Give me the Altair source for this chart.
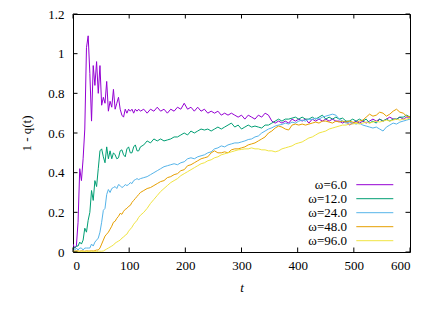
import altair as alt
import pandas as pd

# sampling times (dense at the start, coarser later)
T_EARLY = list(range(0, 121, 3))
T_LATE = list(range(126, 601, 6))
T = T_EARLY + T_LATE

labels = ["ω=6.0", "ω=12.0", "ω=24.0", "ω=48.0", "ω=96.0"]
colors = ["#9400d3", "#009e73", "#56b4e9", "#e69f00", "#f0e442"]
x_ticks = [0, 100, 200, 300, 400, 500, 600]
y_ticks = [0, 0.2, 0.4, 0.6, 0.8, 1.0, 1.2]

w6 = [0.04, 0.02, 0.03, 0.15, 0.42, 0.36, 0.47, 0.62, 1.03, 1.09,
      0.90, 0.66, 0.94, 0.84, 0.96, 0.80, 0.94, 0.74, 0.78, 0.75,
      0.86, 0.71, 0.76, 0.73, 0.82, 0.72, 0.75, 0.78, 0.72, 0.69,
      0.68, 0.72, 0.70, 0.72, 0.71, 0.72, 0.70, 0.72, 0.71, 0.72,
      0.71,
      0.72, 0.70, 0.72, 0.71, 0.73, 0.71, 0.72, 0.70, 0.72, 0.71,
      0.73, 0.72, 0.75, 0.72, 0.73, 0.71, 0.73, 0.71, 0.72, 0.70,
      0.71, 0.70, 0.71, 0.69, 0.70, 0.69, 0.70, 0.69, 0.68, 0.69,
      0.67, 0.69, 0.68, 0.67, 0.69, 0.68, 0.70, 0.69, 0.66, 0.65,
      0.66, 0.65, 0.66, 0.65, 0.67, 0.66, 0.67, 0.66, 0.67, 0.65,
      0.67, 0.66, 0.67, 0.66, 0.67, 0.66, 0.67, 0.66, 0.66, 0.65,
      0.66, 0.64, 0.65, 0.66, 0.65, 0.66, 0.65, 0.66, 0.67, 0.66,
      0.67, 0.66, 0.67, 0.68, 0.67, 0.67, 0.68, 0.67, 0.68, 0.68]

w12 = [0.02, 0.02, 0.03, 0.03, 0.05, 0.04, 0.06, 0.12, 0.10, 0.16,
       0.20, 0.31, 0.26, 0.36, 0.33, 0.42, 0.51, 0.52, 0.48, 0.45,
       0.53, 0.47, 0.51, 0.47, 0.50, 0.49, 0.47, 0.475, 0.51, 0.515,
       0.49, 0.48, 0.52, 0.53, 0.50, 0.50, 0.53, 0.54, 0.51, 0.51,
       0.53,
       0.54, 0.56, 0.55, 0.57, 0.56, 0.57, 0.56, 0.565, 0.57, 0.58,
       0.58, 0.59, 0.60, 0.59, 0.61, 0.60, 0.61, 0.62, 0.615, 0.62,
       0.61, 0.62, 0.63, 0.62, 0.63, 0.64, 0.65, 0.63, 0.64, 0.62,
       0.63, 0.64, 0.63, 0.635, 0.63, 0.625, 0.64, 0.64, 0.65, 0.66,
       0.67, 0.66, 0.67, 0.67, 0.675, 0.68, 0.67, 0.68, 0.67, 0.67,
       0.68, 0.67, 0.68, 0.69, 0.67, 0.68, 0.67, 0.68, 0.67, 0.675,
       0.66, 0.66, 0.67, 0.66, 0.67, 0.66, 0.67, 0.65, 0.66, 0.65,
       0.67, 0.66, 0.67, 0.66, 0.67, 0.67, 0.68, 0.68, 0.69, 0.68]

w24 = [0.01, 0.01, 0.02, 0.01, 0.02, 0.02, 0.01, 0.02, 0.02, 0.02,
       0.02, 0.04, 0.03, 0.05, 0.06, 0.07, 0.10, 0.15, 0.21, 0.22,
       0.29, 0.315, 0.30, 0.32, 0.325, 0.33, 0.32, 0.34, 0.335, 0.325,
       0.33, 0.34, 0.335, 0.34, 0.35, 0.345, 0.36, 0.365, 0.37, 0.365,
       0.37,
       0.375, 0.38, 0.39, 0.40, 0.41, 0.42, 0.43, 0.435, 0.44, 0.445,
       0.44, 0.45, 0.455, 0.47, 0.475, 0.47, 0.48, 0.485, 0.49, 0.50,
       0.505, 0.52, 0.525, 0.535, 0.53, 0.54, 0.545, 0.55, 0.55, 0.555,
       0.56, 0.567, 0.57, 0.58, 0.585, 0.60, 0.61, 0.62, 0.626, 0.635,
       0.64, 0.643, 0.65, 0.645, 0.655, 0.65, 0.66, 0.665, 0.66, 0.67,
       0.668, 0.675, 0.67, 0.68, 0.685, 0.69, 0.695, 0.69, 0.67, 0.66,
       0.65, 0.655, 0.65, 0.645, 0.65, 0.64, 0.635, 0.63, 0.625, 0.63,
       0.62, 0.61, 0.63, 0.64, 0.65, 0.645, 0.655, 0.66, 0.665, 0.67]

w48 = [0.005, 0.004, 0.006, 0.005, 0.004, 0.006, 0.005, 0.004, 0.006, 0.005,
       0.005, 0.006, 0.005, 0.007, 0.01, 0.01, 0.02, 0.04, 0.06, 0.08,
       0.09, 0.10, 0.115, 0.13, 0.15, 0.155, 0.17, 0.18, 0.195, 0.19,
       0.205, 0.215, 0.22, 0.23, 0.235, 0.25, 0.26, 0.27, 0.28, 0.29,
       0.30,
       0.31, 0.32, 0.325, 0.335, 0.345, 0.355, 0.36, 0.375, 0.38, 0.39,
       0.395, 0.41, 0.415, 0.435, 0.44, 0.45, 0.46, 0.47, 0.475, 0.48,
       0.50, 0.51, 0.50, 0.50, 0.505, 0.50, 0.515, 0.52, 0.52, 0.525,
       0.53, 0.54, 0.545, 0.55, 0.56, 0.57, 0.58, 0.60, 0.61, 0.625,
       0.635, 0.63, 0.62, 0.615, 0.64, 0.645, 0.64, 0.645, 0.64, 0.645,
       0.65, 0.655, 0.65, 0.66, 0.66, 0.655, 0.65, 0.66, 0.655, 0.66,
       0.655, 0.66, 0.655, 0.65, 0.66, 0.665, 0.68, 0.695, 0.685, 0.69,
       0.705, 0.70, 0.685, 0.695, 0.71, 0.72, 0.705, 0.70, 0.685, 0.68]

w96 = [0.003, 0.002, 0.003, 0.003, 0.002, 0.003, 0.003, 0.002, 0.003, 0.003,
       0.003, 0.004, 0.003, 0.004, 0.003, 0.004, 0.004, 0.004, 0.005, 0.01,
       0.015, 0.02, 0.025, 0.03, 0.035, 0.045, 0.05, 0.055, 0.06, 0.07,
       0.075, 0.085, 0.09, 0.105, 0.115, 0.125, 0.14, 0.15, 0.16, 0.175,
       0.185,
       0.20, 0.22, 0.245, 0.265, 0.285, 0.305, 0.32, 0.335, 0.35, 0.36,
       0.37, 0.385, 0.395, 0.405, 0.415, 0.425, 0.435, 0.445, 0.45, 0.46,
       0.465, 0.475, 0.48, 0.49, 0.495, 0.50, 0.505, 0.51, 0.515, 0.517,
       0.52, 0.52, 0.525, 0.52, 0.52, 0.515, 0.515, 0.51, 0.51, 0.505,
       0.51, 0.52, 0.525, 0.53, 0.535, 0.545, 0.55, 0.555, 0.565, 0.575,
       0.58, 0.59, 0.60, 0.605, 0.61, 0.62, 0.625, 0.63, 0.635, 0.64,
       0.64, 0.645, 0.645, 0.65, 0.645, 0.65, 0.655, 0.65, 0.655, 0.66,
       0.655, 0.66, 0.665, 0.66, 0.665, 0.67, 0.665, 0.67, 0.67, 0.675]

series = [w6, w12, w24, w48, w96]

rows = []
for lab, vals in zip(labels, series):
    for t, v in zip(T, vals):
        rows.append({"t": t, "v": v, "series": lab})
df = pd.DataFrame(rows)

W, H = 337, 238
TL = 4.5
FONT = "Liberation Serif"
FS = 13

xs = alt.Scale(domain=[0, 600], nice=False, zero=False)
ys = alt.Scale(domain=[0, 1.2], nice=False, zero=False)
cs = alt.Scale(domain=labels, range=colors)

x_axis = alt.Axis(values=x_ticks, title="t", titleFontStyle="italic",
                  tickSize=0, domain=False, grid=False, labelOverlap=False,
                  labelFont=FONT, labelFontSize=FS, labelColor="black",
                  titleFont=FONT, titleFontSize=FS, titleColor="black",
                  titleFontWeight="normal", labelPadding=7, titlePadding=9)
y_axis = alt.Axis(values=y_ticks, format="~g", title="1 - q(t)",
                  tickSize=0, domain=False, grid=False, labelOverlap=False,
                  labelFont=FONT, labelFontSize=FS, labelColor="black",
                  titleFont=FONT, titleFontSize=FS, titleColor="black",
                  titleFontWeight="normal", labelPadding=9, titlePadding=14)

lines = alt.Chart(df).mark_line(strokeWidth=1, clip=True).encode(
    x=alt.X("t:Q", scale=xs, axis=x_axis),
    y=alt.Y("v:Q", scale=ys, axis=y_axis),
    color=alt.Color("series:N", scale=cs, legend=None),
)

xt = pd.DataFrame({"t": x_ticks})
yt = pd.DataFrame({"v": y_ticks})

xb = alt.Chart(xt).mark_rule(color="black", strokeWidth=1).encode(
    x=alt.X("t:Q", scale=xs, axis=x_axis), y=alt.value(H), y2=alt.value(H - TL))
xtop = alt.Chart(xt).mark_rule(color="black", strokeWidth=1).encode(
    x=alt.X("t:Q", scale=xs, axis=x_axis), y=alt.value(0), y2=alt.value(TL))
yl = alt.Chart(yt).mark_rule(color="black", strokeWidth=1).encode(
    y=alt.Y("v:Q", scale=ys, axis=y_axis), x=alt.value(0), x2=alt.value(TL))
yr = alt.Chart(yt).mark_rule(color="black", strokeWidth=1).encode(
    y=alt.Y("v:Q", scale=ys, axis=y_axis), x=alt.value(W), x2=alt.value(W - TL))

main = alt.layer(lines, xb, xtop, yl, yr)

leg_df = pd.DataFrame({"series": labels})
leg_y = alt.Y("series:N", sort=labels, axis=None,
              scale=alt.Scale(type="point", domain=labels, range=[170.7, 226.7], padding=0))
leg_text = alt.Chart(leg_df).mark_text(align="right", baseline="middle", font=FONT,
                                       fontSize=FS, color="black").encode(
    x=alt.value(274), y=leg_y, text="series:N")
leg_line = alt.Chart(leg_df).mark_rule(strokeWidth=1).encode(
    x=alt.value(283.3), x2=alt.value(320.3), y=leg_y,
    color=alt.Color("series:N", scale=cs, legend=None))

chart = alt.layer(main, leg_text, leg_line).resolve_scale(y="independent").properties(
    width=W, height=H,
    padding={"left": 65, "top": 6, "right": 12, "bottom": 50},
    autosize=alt.AutoSizeParams(type="none"),
    background="white",
).configure_view(stroke="black", strokeWidth=1)

chart.save("out.html", embed_options={"renderer": "svg", "actions": False})
